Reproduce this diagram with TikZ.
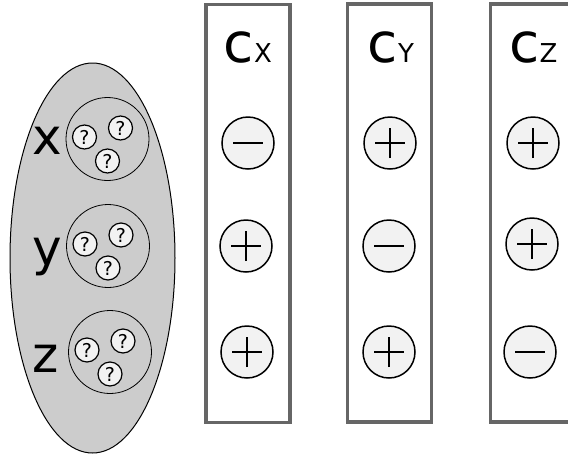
\documentclass[tikz,border=0pt]{standalone}
\usepackage{fontspec}
\setmainfont{DejaVu Sans}
\usepackage{tikz}
\usetikzlibrary{positioning}
\usetikzlibrary{shapes.geometric}
\definecolor{poolgray}{HTML}{CCCCCC}
\definecolor{boxgray}{HTML}{666666}
\definecolor{signfill}{HTML}{F2F2F2}
\tikzset {
  % the ellipse holding all variables
  pool/.style = {draw, ellipse, fill=poolgray, line width=1pt, minimum width=165pt, minimum height=390pt, inner sep=0pt},
  % one circle per variable, with its unknown values
  group/.style = {draw, circle, line width=0.8pt, minimum size=83pt, inner sep=0pt},
  qmark/.style = {draw, circle, fill=signfill, line width=1.2pt, minimum size=24pt, inner sep=0pt, font=\fontsize{19}{19}\selectfont},
  varname/.style = {anchor=base, font=\fontsize{50}{50}\selectfont},
  % constraint columns
  column/.style = {draw=boxgray, line width=3.5pt, minimum width=84pt, minimum height=418pt, inner sep=0pt},
  head/.style = {anchor=base, font=\fontsize{55}{55}\selectfont},
  % signs
  sign/.style = {draw, circle, fill=signfill, line width=1.5pt, minimum size=52pt, inner sep=0pt},
  plus/.style = {sign, path picture={
      \draw[line width=1.3pt] (path picture bounding box.center) ++(-15pt,0) -- ++(30pt,0)
        (path picture bounding box.center) ++(0,-15pt) -- ++(0,30pt);}},
  minus/.style = {sign, path picture={
      \draw[line width=1.3pt] (path picture bounding box.center) ++(-15pt,0) -- ++(30pt,0);}},
}

\begin{document}
\begin{tikzpicture}[x=1pt, y=-1pt]
      \useasboundingbox (0,0) rectangle (568,459);

      \node[pool] (pool) at (92.5,258) {};

      \node[group] (gx) at (107.5,139) {};
      \node[group] (gy) at (108,246) {};
      \node[group] (gz) at (110,352) {};

      \node[varname] (nx) at (47,154) {x};
      \node[varname] (ny) at (47,265) {y};
      \node[varname] (nz) at (46,372) {z};

      \node[qmark] (qx1) at (84.5,137) {?};
      \node[qmark] (qx2) at (120.5,128) {?};
      \node[qmark] (qx3) at (107.5,161) {?};

      \node[qmark] (qy1) at (85,244) {?};
      \node[qmark] (qy2) at (121,235) {?};
      \node[qmark] (qy3) at (108,268) {?};

      \node[qmark] (qz1) at (87,350) {?};
      \node[qmark] (qz2) at (123,341) {?};
      \node[qmark] (qz3) at (110,374) {?};

      \node[column] (cx) at (248,213.5) {};
      \node[column] (cy) at (389.5,213) {};
      \node[column] (cz) at (532.5,213) {};

      \node[head] (hx) at (248,62) {c{\fontsize{26}{26}\selectfont X}};
      \node[head] (hy) at (391,62) {c{\fontsize{26}{26}\selectfont Y}};
      \node[head] (hz) at (533.5,62) {c{\fontsize{26}{26}\selectfont Z}};

      \node[minus] (sx1) at (248,143) {};
      \node[plus]  (sx2) at (246,246) {};
      \node[plus]  (sx3) at (247,352) {};

      \node[plus]  (sy1) at (390,143) {};
      \node[minus] (sy2) at (389,246) {};
      \node[plus]  (sy3) at (389,352) {};

      \node[plus]  (sz1) at (533,143) {};
      \node[plus]  (sz2) at (532,244) {};
      \node[minus] (sz3) at (530,352) {};
    \end{tikzpicture}
\end{document}
